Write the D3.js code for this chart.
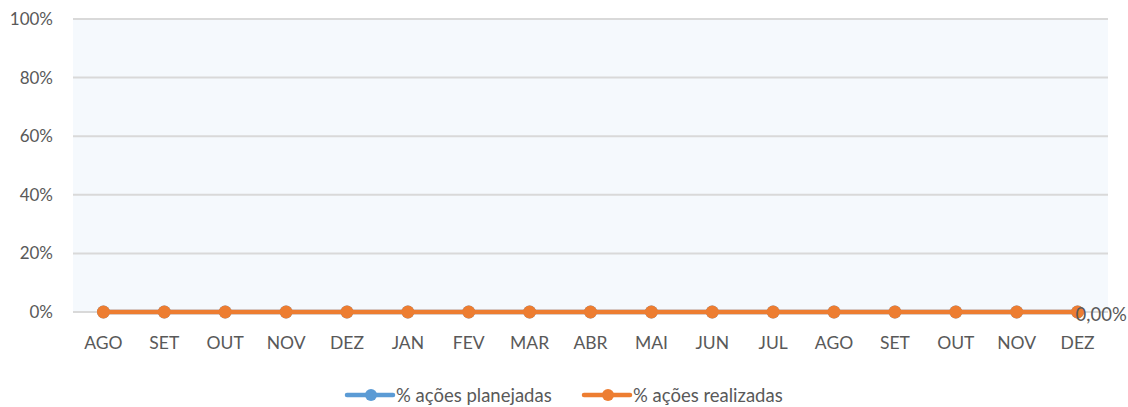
<!DOCTYPE html>
<html><head><meta charset="utf-8">
<script src="https://cdn.jsdelivr.net/npm/d3@7/dist/d3.min.js"></script>
<style>
body{margin:0;background:#fff;}
svg text{font-family:Lato,"Open Sans",sans-serif;fill:#595959;}
</style></head>
<body><svg id="chart" width="1128" height="407"></svg>
<script>
const months = ["AGO","SET","OUT","NOV","DEZ","JAN","FEV","MAR","ABR","MAI","JUN","JUL","AGO","SET","OUT","NOV","DEZ"];
const planejadas = [0,0,0,0,0,0,0,0,0,0,0,0,0,0,0,0,0];
const realizadas = [0,0,0,0,0,0,0,0,0,0,0,0,0,0,0,0,0];
const yTicks = [0,0.2,0.4,0.6,0.8,1];
const seriesNames = ["% ações planejadas","% ações realizadas"];
const seriesColors = ["#5b9bd5","#ed7d31"];

const svg = d3.select("#chart");
const m = {left:73, right:20, top:19, bottom:95};
const W = 1128, H = 407;
const idx = months.map((d,i)=>i);
const x = d3.scaleBand().domain(idx).range([m.left, W-m.right]);
const y = d3.scaleLinear().domain([0,1]).range([H-m.bottom, m.top]);

svg.append("rect").attr("x",m.left).attr("y",m.top)
  .attr("width",W-m.right-m.left).attr("height",y(0)-m.top).attr("fill","#f5f9fd");

svg.append("g").selectAll("line").data(yTicks).join("line")
  .attr("x1",m.left).attr("x2",W-m.right)
  .attr("y1",d=>y(d)).attr("y2",d=>y(d))
  .attr("stroke","#d9d9d9").attr("stroke-width",2);

const yAxis = svg.append("g").attr("transform",`translate(${m.left},0)`)
  .call(d3.axisLeft(y).tickValues(yTicks).tickFormat(d=>Math.round(d*100)+"%").tickSize(0).tickPadding(20));
yAxis.select(".domain").remove();
yAxis.selectAll("text").attr("font-size",17).style("font-family","Lato,sans-serif").attr("fill","#595959");

const xAxis = svg.append("g").attr("transform",`translate(0,${y(0)})`)
  .call(d3.axisBottom(x).tickFormat(i=>months[i]).tickSize(0).tickPadding(25));
xAxis.select(".domain").remove();
xAxis.selectAll("text").attr("font-size",17.5).style("font-family","Lato,sans-serif").attr("fill","#595959");

const cx = i => x(i)+x.bandwidth()/2;
[planejadas, realizadas].forEach((vals,s)=>{
  const line = d3.line().x((d,i)=>cx(i)).y(d=>y(d));
  svg.append("path").datum(vals).attr("d",line).attr("fill","none")
    .attr("stroke",seriesColors[s]).attr("stroke-width",4.5).attr("stroke-linecap","round");
  svg.append("g").selectAll("circle").data(vals).join("circle")
    .attr("cx",(d,i)=>cx(i)).attr("cy",d=>y(d)).attr("r",6.5).attr("fill",seriesColors[s]);
});

const last = realizadas.length-1;
svg.append("text").attr("x",cx(last)-2).attr("y",y(realizadas[last])+9)
  .attr("font-size",18.5).text(realizadas[last].toFixed(2).replace(".",",")+"%");

const leg = svg.append("g");
const legX = [347, 584];
seriesNames.forEach((n,s)=>{
  const g = leg.append("g").attr("transform",`translate(${legX[s]},395)`);
  g.append("line").attr("x1",0).attr("x2",46).attr("stroke",seriesColors[s]).attr("stroke-width",4.5).attr("stroke-linecap","round");
  g.append("circle").attr("cx",24).attr("r",6).attr("fill",seriesColors[s]);
  g.append("text").attr("x",49).attr("y",6.5).attr("font-size",18.5).text(n);
});
</script></body></html>
